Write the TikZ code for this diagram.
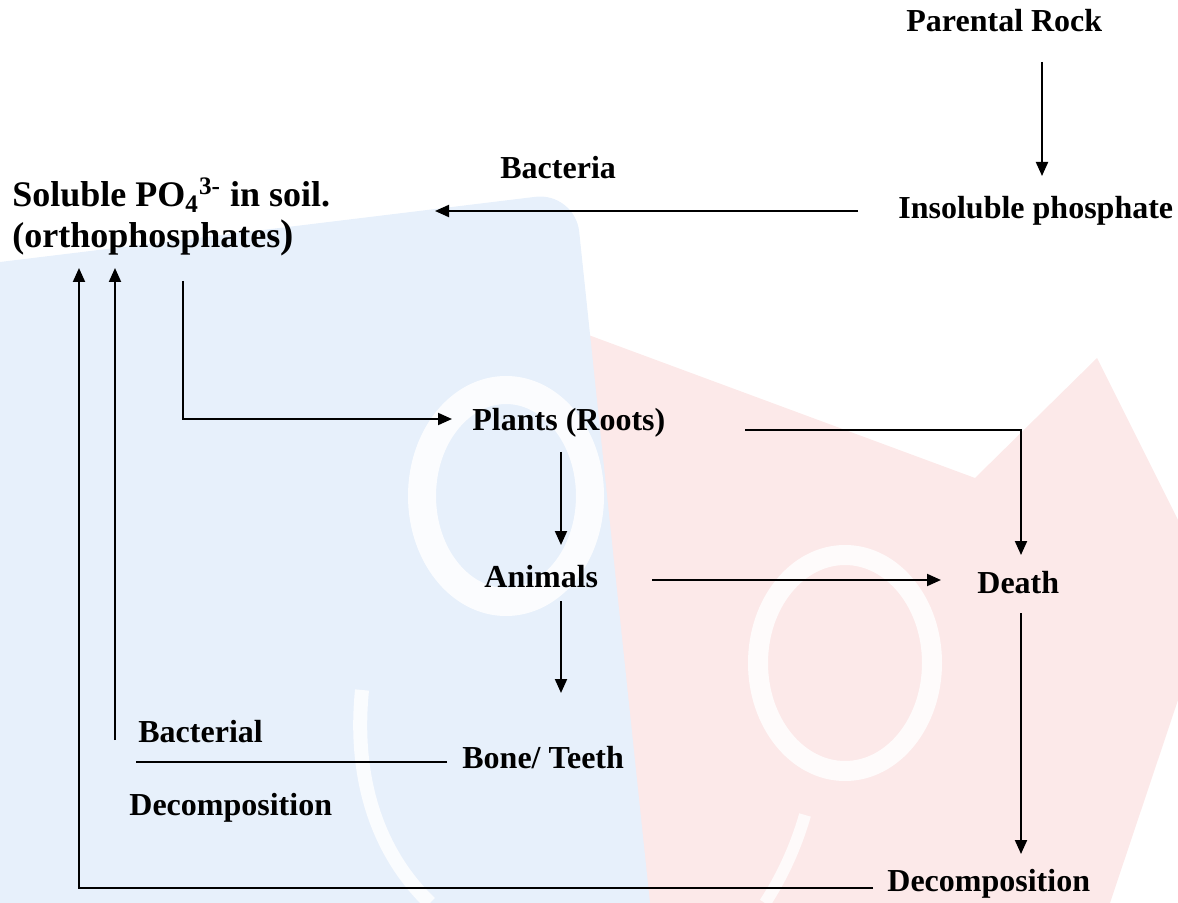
\documentclass[tikz,border=0pt]{standalone}
\usepackage{fontspec}
\setmainfont{Liberation Serif}
\usetikzlibrary{arrows.meta}
\definecolor{wmblue}{RGB}{231,240,251}
\definecolor{wmred}{RGB}{252,233,233}
\tikzset{
  lbl/.style={anchor=base west, inner sep=0pt, font=\bfseries\fontsize{16}{19}\selectfont},
  biglbl/.style={lbl, font=\bfseries\fontsize{18}{20.5}\selectfont, align=left},
  flow/.style={line width=1pt, -{Triangle[length=7pt,width=6pt]}},
  link/.style={line width=1pt}
}

\begin{document}
\begin{tikzpicture}[x=0.5pt,y=-0.5pt]

        \useasboundingbox (0,0) rectangle (1178,903);

        % Faint watermark behind the cycle
        \begin{scope}
          \clip (0,0) rectangle (1178,903);
          \fill[wmred] (575,330) -- (975,478) -- (1097,358) -- (1178,520) -- (1178,700) -- (1110,903) -- (640,903) -- cycle;
          \fill[wmblue] (0,262) [rounded corners=20pt] -- (575,192) [sharp corners] -- (650,903) -- (0,903) -- cycle;
          \draw[white, line width=14pt, opacity=0.85] (506,496) ellipse [x radius=84, y radius=106];
          \draw[white, line width=10pt, opacity=0.85] (845,663) ellipse [x radius=87, y radius=108];
          \draw[white, line width=7pt, opacity=0.8] (362,690) .. controls (352,790) and (385,860) .. (430,903);
          \draw[white, line width=6pt, opacity=0.8] (805,815) .. controls (795,850) and (780,880) .. (765,903);
        \end{scope}

        % --- Labels ---
        \node[lbl] (rock) at (906,32) {Parental Rock};
        \node[lbl] (insol) at (898,219) {Insoluble phosphate};
        \node[lbl] (bact) at (500,179) {Bacteria};
        \node[biglbl] (sol) at (12,248) {Soluble PO\textsubscript{4}\textsuperscript{3-} in soil.\\(orthophosphates{\fontsize{20}{20}\selectfont)}};
        \node[lbl] (plants) at (472,430) {Plants (Roots)};
        \node[lbl] (animals) at (484,587) {Animals};
        \node[lbl] (death) at (977,593) {Death};
        \node[lbl] (bone) at (462,768) {Bone/ Teeth};
        \node[lbl] (bdec1) at (138,742) {Bacterial};
        \node[lbl] (bdec2) at (129,815) {Decomposition};
        \node[lbl] (decomp) at (887,891) {Decomposition};

        % --- Connector ends ---
        \coordinate (rockout) at (1042,62);
        \coordinate (insolin) at (1042,176);
        \coordinate (insolout) at (858,211);
        \coordinate (solin) at (435,211);
        \coordinate (solout) at (183,281);
        \coordinate (plantsin) at (452,419);
        \coordinate (plantsout) at (745,430);
        \coordinate (plantsdown) at (561,452);
        \coordinate (animalsin) at (561,545);
        \coordinate (animalsout) at (652,580);
        \coordinate (animalsdown) at (561,601);
        \coordinate (bonein) at (561,693);
        \coordinate (deathin) at (941,580);
        \coordinate (deathtop) at (1021,555);
        \coordinate (deathout) at (1021,613);
        \coordinate (decompin) at (1021,854);
        \coordinate (decompout) at (873,888);
        \coordinate (boneout) at (447,762);
        \coordinate (bacend) at (136,762);
        \coordinate (bacup) at (115,740);
        \coordinate (solinA) at (79,268);
        \coordinate (solinB) at (115,268);

        % --- Connectors ---
        \draw[flow] (rockout) -- (insolin);
        \draw[flow] (insolout) -- (solin);
        \draw[flow] (solout) |- (plantsin);
        \draw[flow] (plantsout) -| (deathtop);
        \draw[flow] (plantsdown) -- (animalsin);
        \draw[flow] (animalsout) -- (deathin);
        \draw[flow] (animalsdown) -- (bonein);
        \draw[flow] (deathout) -- (decompin);
        \draw[link] (boneout) -- (bacend);
        \draw[flow] (bacup) -- (solinB);
        \draw[flow] (decompout) -| (solinA);

\end{tikzpicture}
\end{document}
